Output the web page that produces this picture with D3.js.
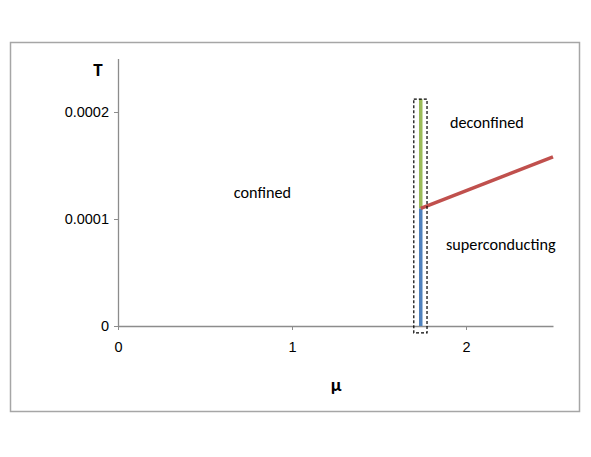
<!DOCTYPE html>
<html>
<head>
<meta charset="utf-8">
<script src="https://cdn.jsdelivr.net/npm/d3@7"></script>
<style>
body { margin: 0; background: #fff; }
svg { font-family: Carlito, Lato, "Liberation Sans", sans-serif; }
</style>
</head>
<body>
<svg class="svg" width="591" height="457"></svg>
<script>
// phase diagram values (mu, T)
var xTicks = [0, 1, 2];
var yTicks = [0, 0.0001, 0.0002];
var muC = 1.74;
var superLine = [{mu: muC, T: 0}, {mu: muC, T: 0.000110}];
var deconfLine = [{mu: muC, T: 0.000110}, {mu: muC, T: 0.000212}];
var redLine = [{mu: muC, T: 0.000110}, {mu: 2.5, T: 0.000158}];
var boxMu = [1.70, 1.776];
var boxT = [-0.0000065, 0.000212];
var regionLabels = [
    {text: 'confined', mu: 0.83, T: 0.000123},
    {text: 'deconfined', mu: 2.12, T: 0.000189},
    {text: 'superconducting', mu: 2.2, T: 0.0000745}
];

var svg = d3.select('.svg');

svg.append('rect')
    .attr('x', 10.5).attr('y', 42.5)
    .attr('width', 569).attr('height', 369)
    .attr('fill', 'none')
    .attr('stroke', '#a6a6a6')
    .attr('stroke-width', 1.5);

var x = d3.scaleLinear().domain([0, 2.5]).range([118, 553]);
var y = d3.scaleLinear().domain([0, 0.00025]).range([326, 58.5]);

var axisColor = '#8c8c8c';

var gx = svg.append('g')
    .attr('transform', 'translate(0,326)')
    .call(d3.axisBottom(x).tickValues(xTicks).tickFormat(d3.format('d')).tickSize(4).tickPadding(12).tickSizeOuter(0));
var gy = svg.append('g')
    .attr('transform', 'translate(118,0)')
    .call(d3.axisLeft(y).tickValues(yTicks).tickFormat((d) => d === 0 ? '0' : d.toFixed(4)).tickSize(4).tickPadding(5).tickSizeOuter(0));

[gx, gy].forEach((g) => {
    g.select('.domain').attr('stroke', axisColor).attr('stroke-width', 1.3);
    g.selectAll('.tick line').attr('stroke', axisColor);
    g.selectAll('.tick text').attr('fill', '#000').style('font-size', '14.5px');
});

var line = d3.line()
    .x((d) => x(d.mu))
    .y((d) => y(d.T));

svg.append('path').datum(superLine).attr('d', line)
    .attr('stroke', '#4f81bd').attr('stroke-width', 3.5).attr('fill', 'none');
svg.append('path').datum(deconfLine).attr('d', line)
    .attr('stroke', '#9bbb59').attr('stroke-width', 3.5).attr('fill', 'none');
svg.append('path').datum(redLine).attr('d', line)
    .attr('stroke', '#c0504d').attr('stroke-width', 3.5).attr('fill', 'none');

svg.append('rect')
    .attr('x', x(boxMu[0])).attr('y', y(boxT[1]))
    .attr('width', x(boxMu[1]) - x(boxMu[0]))
    .attr('height', y(boxT[0]) - y(boxT[1]))
    .attr('fill', 'none')
    .attr('stroke', '#000')
    .attr('stroke-width', 1.2)
    .attr('stroke-dasharray', '3,2');

svg.selectAll('.region')
    .data(regionLabels)
    .enter().append('text')
    .attr('class', 'region')
    .attr('x', (d) => x(d.mu))
    .attr('y', (d) => y(d.T))
    .attr('text-anchor', 'middle')
    .attr('dominant-baseline', 'middle')
    .style('font-size', '16.2px')
    .text((d) => d.text);

svg.append('text')
    .attr('x', 98).attr('y', 71)
    .attr('text-anchor', 'middle')
    .attr('dominant-baseline', 'middle')
    .style('font-size', '19px').style('font-weight', 'bold')
    .text('T');

svg.append('text')
    .attr('x', 336).attr('y', 386)
    .attr('text-anchor', 'middle')
    .attr('dominant-baseline', 'middle')
    .style('font-size', '19px').style('font-weight', 'bold')
    .text('μ');
</script>
</body>
</html>
